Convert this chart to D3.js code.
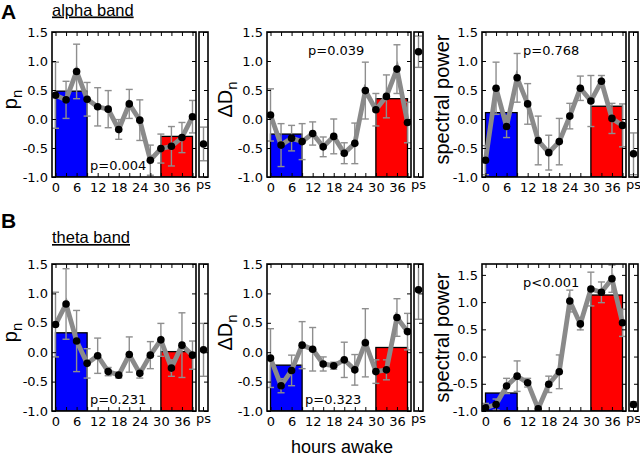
<!DOCTYPE html>
<html>
<head>
<meta charset="utf-8">
<script src="https://cdn.jsdelivr.net/npm/d3@7"></script>
<style>
  body { margin: 0; background: #fff; }
  svg { display: block; }
</style>
</head>
<body>
<svg id="chart" width="640" height="458"></svg>
<script>
// x categories (hours awake) and ticks
const hours = [0, 3, 6, 9, 12, 15, 18, 21, 24, 27, 30, 33, 36, 39];
const xTickLabels = [0, 6, 12, 18, 24, 30, 36];
const yTicks = [-1.0, -0.5, 0.0, 0.5, 1.0, 1.5];
const barSpans = [[0, 9], [30, 39]];
const barColors = ['#0000ff', '#ff0000'];

// alpha band
const alphaPn = [0.41, 0.33, 0.82, 0.34, 0.21, 0.17, -0.18, 0.26, -0.02, -0.71, -0.51, -0.47, -0.32, 0.04];
const alphaPnErr = [0.57, 0.32, 0.47, 0.29, 0.33, 0.32, 0.17, 0.25, 0.35, 0.26, 0.25, 0.34, 0.26, 0.28];
const alphaPnPs = [-0.43, 0.29];
const alphaPnBars = [0.48, -0.30];

const alphaDn = [0.07, -0.45, -0.33, -0.39, -0.25, -0.48, -0.30, -0.59, -0.42, 0.49, 0.16, 0.39, 0.86, -0.06];
const alphaDnErr = [0.45, 0.37, 0.22, 0.31, 0.20, 0.17, 0.30, 0.18, 0.35, 0.49, 0.28, 0.37, 0.42, 0.35];
const alphaDnPs = [1.16, 0.27];
const alphaDnBars = [-0.26, 0.35];

const alphaSp = [-0.71, 0.53, -0.13, 0.71, 0.26, -0.37, -0.58, -0.39, 0.05, 0.53, 0.31, 0.65, 0.01, -0.11];
const alphaSpErr = [0.25, 0.45, 0.19, 0.42, 0.35, 0.42, 0.30, 0.40, 0.22, 0.21, 0.44, 0.10, 0.26, 0.37];
const alphaSpPs = [-0.60, 0.36];
const alphaSpBars = [0.11, 0.22];

// theta band
const thetaPn = [0.47, 0.82, 0.19, -0.19, -0.06, -0.33, -0.39, -0.04, -0.36, -0.05, 0.21, -0.27, 0.12, -0.05];
const thetaPnErr = [0.55, 0.60, 0.52, 0.25, 0.30, 0.07, 0.05, 0.30, 0.08, 0.23, 0.28, 0.14, 0.55, 0.24];
const thetaPnPs = [0.04, 0.45];
const thetaPnBars = [0.33, 0.01];

const thetaDn = [-0.10, -0.57, -0.31, 0.12, 0.05, -0.20, -0.23, -0.13, -0.30, 0.16, -0.33, -0.30, 0.59, 0.35];
const thetaDnErr = [0.50, 0.12, 0.26, 0.40, 0.37, 0.12, 0.06, 0.30, 0.26, 0.58, 0.20, 0.17, 0.32, 0.31];
const thetaDnPs = [1.06, 0.50];
const thetaDnBars = [-0.22, 0.08];

const thetaSp = [-0.94, -0.88, -0.54, -0.36, -0.48, -0.96, -0.51, -0.28, 1.02, 0.60, 1.24, 1.18, 1.43, 0.62];
const thetaSpErr = [0.08, 0.10, 0.14, 0.28, 0.08, 0.05, 0.15, 0.31, 0.20, 0.11, 0.31, 0.19, 0.25, 0.25];
const thetaSpPs = [-0.88, 0.05];
const thetaSpBars = [-0.67, 1.13];

const panels = [
  {row: 0, col: 0, vals: alphaPn, errs: alphaPnErr, ps: alphaPnPs, bars: alphaPnBars, ymax: 1.5, label: ['p', 'n'], p: 'p=0.004', pLow: true},
  {row: 0, col: 1, vals: alphaDn, errs: alphaDnErr, ps: alphaDnPs, bars: alphaDnBars, ymax: 1.5, label: ['\u0394D', 'n'], p: 'p=0.039', pLow: false},
  {row: 0, col: 2, vals: alphaSp, errs: alphaSpErr, ps: alphaSpPs, bars: alphaSpBars, ymax: 1.5, label: ['spectral power', ''], p: 'p=0.768', pLow: false},
  {row: 1, col: 0, vals: thetaPn, errs: thetaPnErr, ps: thetaPnPs, bars: thetaPnBars, ymax: 1.5, label: ['p', 'n'], p: 'p=0.231', pLow: true},
  {row: 1, col: 1, vals: thetaDn, errs: thetaDnErr, ps: thetaDnPs, bars: thetaDnBars, ymax: 1.5, label: ['\u0394D', 'n'], p: 'p=0.323', pLow: true},
  {row: 1, col: 2, vals: thetaSp, errs: thetaSpErr, ps: thetaSpPs, bars: thetaSpBars, ymax: 1.7, label: ['spectral power', ''], p: 'p<0.001', pLow: false}
];

const colLeft = [52, 267, 482];
const rowTop = [32, 264];
const rowHeight = [145, 147];
const mainW = 144, psGap = 3, psW = 9;
const tickFont = 'DejaVu Sans, sans-serif';
const labelFont = 'Liberation Sans, Arial, sans-serif';

const svg = d3.select('#chart');
const defs = svg.append('defs');

panels.forEach((pn, i) => {
  const L = colLeft[pn.col], T = rowTop[pn.row], H = rowHeight[pn.row];
  const g = svg.append('g').attr('transform', `translate(${L},${T})`);

  const x = d3.scaleLinear().domain([-1, 40]).range([0, mainW]);
  const y = d3.scaleLinear().domain([-1, pn.ymax]).range([H, 0]);
  const psX = mainW + psGap + psW / 2;

  defs.append('clipPath').attr('id', 'clipMain' + i)
    .append('rect').attr('width', mainW).attr('height', H);
  defs.append('clipPath').attr('id', 'clipPs' + i)
    .append('rect').attr('x', mainW + psGap).attr('width', psW).attr('height', H);

  const main = g.append('g').attr('clip-path', `url(#clipMain${i})`);

  // bars (from bottom of axis up to value)
  main.selectAll('rect.bar').data(pn.bars).enter()
    .append('rect')
    .attr('class', 'bar')
    .attr('x', (d, j) => x(barSpans[j][0]))
    .attr('width', (d, j) => x(barSpans[j][1]) - x(barSpans[j][0]))
    .attr('y', d => y(d))
    .attr('height', d => y(-1) - y(d))
    .attr('fill', (d, j) => barColors[j])
    .attr('stroke', '#000')
    .attr('stroke-width', 1.3);

  // error bars
  const eb = main.selectAll('g.eb').data(pn.vals).enter().append('g')
    .attr('stroke', '#8e8e8e').attr('stroke-width', 1.4);
  eb.append('line')
    .attr('x1', (d, j) => x(hours[j])).attr('x2', (d, j) => x(hours[j]))
    .attr('y1', (d, j) => y(d - pn.errs[j])).attr('y2', (d, j) => y(d + pn.errs[j]));
  eb.append('line')
    .attr('x1', (d, j) => x(hours[j]) - 3.5).attr('x2', (d, j) => x(hours[j]) + 3.5)
    .attr('y1', (d, j) => y(d + pn.errs[j])).attr('y2', (d, j) => y(d + pn.errs[j]));
  eb.append('line')
    .attr('x1', (d, j) => x(hours[j]) - 3.5).attr('x2', (d, j) => x(hours[j]) + 3.5)
    .attr('y1', (d, j) => y(d - pn.errs[j])).attr('y2', (d, j) => y(d - pn.errs[j]));

  // line
  const line = d3.line().x((d, j) => x(hours[j])).y(d => y(d));
  main.append('path').datum(pn.vals)
    .attr('d', line)
    .attr('fill', 'none')
    .attr('stroke', '#8a8a8a')
    .attr('stroke-width', 4.8)
    .attr('stroke-linejoin', 'miter');

  // points
  main.selectAll('circle').data(pn.vals).enter()
    .append('circle')
    .attr('cx', (d, j) => x(hours[j]))
    .attr('cy', d => y(d))
    .attr('r', 3.8)
    .attr('fill', '#000');

  // ps point
  const psg = g.append('g').attr('clip-path', `url(#clipPs${i})`);
  const pv = pn.ps[0], pe = pn.ps[1];
  psg.append('line').attr('x1', psX).attr('x2', psX)
    .attr('y1', y(pv - pe)).attr('y2', y(pv + pe))
    .attr('stroke', '#8e8e8e').attr('stroke-width', 1.4);
  [pv - pe, pv + pe].forEach(v => {
    psg.append('line').attr('x1', psX - 3.5).attr('x2', psX + 3.5)
      .attr('y1', y(v)).attr('y2', y(v))
      .attr('stroke', '#8e8e8e').attr('stroke-width', 1.4);
  });
  psg.append('circle').attr('cx', psX).attr('cy', y(pv)).attr('r', 3.8).attr('fill', '#000');

  // axes with inward ticks
  const yAxisL = d3.axisLeft(y).tickValues(yTicks).tickSize(-4).tickPadding(4)
    .tickFormat(d => d.toFixed(1));
  const yAxisR = d3.axisRight(y).tickValues(yTicks).tickSize(-4).tickFormat('');
  const xAxisB = d3.axisBottom(x).tickValues(hours).tickSize(-4).tickPadding(6)
    .tickFormat(d => xTickLabels.includes(d) ? d : '');
  const xAxisT = d3.axisTop(x).tickValues(hours).tickSize(-4).tickFormat('');

  const axes = [
    g.append('g').call(yAxisL),
    g.append('g').attr('transform', `translate(${mainW},0)`).call(yAxisR),
    g.append('g').attr('transform', `translate(0,${H})`).call(xAxisB),
    g.append('g').call(xAxisT),
    g.append('g').attr('transform', `translate(${mainW + psGap + psW},0)`).call(yAxisR)
  ];
  axes.forEach(a => {
    a.select('.domain').remove();
    a.selectAll('line').attr('stroke', '#000').attr('stroke-width', 1);
    a.selectAll('text').attr('font-family', tickFont).attr('font-size', 13).attr('fill', '#000');
  });

  // ps ticks top/bottom
  [[H, H - 4], [0, 4]].forEach(t => {
    g.append('line').attr('x1', psX).attr('x2', psX).attr('y1', t[0]).attr('y2', t[1])
      .attr('stroke', '#000').attr('stroke-width', 1);
  });
  g.append('text').attr('x', psX).attr('y', H + 12)
    .attr('text-anchor', 'middle')
    .attr('font-family', tickFont).attr('font-size', 13)
    .text('ps');

  // frames
  g.append('rect').attr('width', mainW).attr('height', H)
    .attr('fill', 'none').attr('stroke', '#000').attr('stroke-width', 1.6);
  g.append('rect').attr('x', mainW + psGap).attr('width', psW).attr('height', H)
    .attr('fill', 'none').attr('stroke', '#000').attr('stroke-width', 1.6);

  // y label
  const isSp = pn.label[1] === '';
  const lab = svg.append('text')
    .attr('transform', `translate(${L - (isSp ? 33 : 35)},${T + H / 2 - (pn.row === 1 && isSp ? 0 : 5)}) rotate(-90)`)
    .attr('text-anchor', 'middle')
    .attr('font-family', labelFont)
    .attr('font-size', 20);
  lab.append('tspan').text(pn.label[0]);
  if (!isSp) lab.append('tspan').attr('dy', 5).attr('font-size', 15).text(pn.label[1]);

  // p value
  g.append('text')
    .attr('x', pn.pLow ? 38 : 41)
    .attr('y', pn.pLow ? H - 7 : 23)
    .attr('font-family', tickFont).attr('font-size', 13)
    .text(pn.p);
});

// panel letters and titles
svg.append('text').attr('x', 1).attr('y', 19)
  .attr('font-family', labelFont).attr('font-weight', 'bold').attr('font-size', 21).text('A');
svg.append('text').attr('x', 1).attr('y', 228)
  .attr('font-family', labelFont).attr('font-weight', 'bold').attr('font-size', 21).text('B');
svg.append('text').attr('x', 52).attr('y', 15.5)
  .attr('font-family', labelFont).attr('font-size', 16.5)
  .attr('text-decoration', 'underline').text('alpha band');
svg.append('text').attr('x', 52).attr('y', 243)
  .attr('font-family', labelFont).attr('font-size', 16.5)
  .attr('text-decoration', 'underline').text('theta band');

svg.append('text').attr('x', 342).attr('y', 453)
  .attr('text-anchor', 'middle')
  .attr('font-family', labelFont).attr('font-size', 18)
  .text('hours awake');
</script>
</body>
</html>
